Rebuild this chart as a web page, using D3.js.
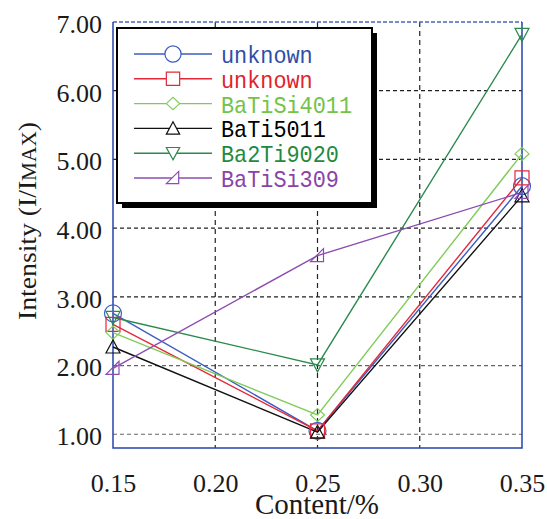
<!DOCTYPE html>
<html>
<head>
<meta charset="utf-8">
<script src="https://cdn.jsdelivr.net/npm/d3@7"></script>
<style>
  body { margin: 0; background: #fff; }
  svg { display: block; }
</style>
</head>
<body>
<div id="chart"></div>
<script>
// chart data
var contents = [0.15, 0.25, 0.35];
var xTicks = [0.15, 0.20, 0.25, 0.30, 0.35];
var yTicks = [1, 2, 3, 4, 5, 6, 7];
var seriesNames = ["unknown", "unknown", "BaTiSi4011", "BaTi5011", "Ba2Ti9020", "BaTiSi309"];
var blueUnknown = [2.76, 1.05, 4.61];
var redUnknown = [2.60, 1.05, 4.73];
var baTiSi4011 = [2.48, 1.28, 5.08];
var baTi5011 = [2.27, 1.03, 4.47];
var ba2Ti9020 = [2.70, 2.01, 6.82];
var baTiSi309 = [1.96, 3.60, 4.52];

var allValues = [blueUnknown, redUnknown, baTiSi4011, baTi5011, ba2Ti9020, baTiSi309];
var lineColors = ["#3c5cc0", "#e4283a", "#80cc5a", "#111111", "#2a8a4c", "#8c4cb0"];
var textColors = ["#2d4ea8", "#e0232d", "#72c348", "#000000", "#1f8a42", "#8a44a8"];
var symbols = ["circle", "square", "diamond", "triangle", "triangleDown", "halfTriangle"];

var W = 547, H = 519;
var svg = d3.select("#chart").append("svg").attr("width", W).attr("height", H);

var x = d3.scaleLinear().domain([0.15, 0.35]).range([113, 522]);
var y = d3.scaleLinear().domain([0.8, 7]).range([448, 22]);

// marker paths, centred on 0,0
function markerPath(kind, legend) {
  var s = legend ? 0.95 : 1;
  switch (kind) {
    case "circle": {
      var r = 8.5 * s;
      return "M" + (-r) + ",0A" + r + "," + r + " 0 1,0 " + r + ",0A" + r + "," + r + " 0 1,0 " + (-r) + ",0Z";
    }
    case "square": { var h = 7 * s; return "M" + -h + "," + -h + "H" + h + "V" + h + "H" + -h + "Z"; }
    case "diamond": return "M" + (-7 * s) + ",0L0," + (-6.5 * s) + "L" + (7 * s) + ",0L0," + (6.5 * s) + "Z";
    case "triangle": return "M0," + (-7 * s) + "L" + (7 * s) + "," + (6 * s) + "L" + (-7 * s) + "," + (6 * s) + "Z";
    case "triangleDown": return "M0," + (7 * s) + "L" + (7 * s) + "," + (-6 * s) + "L" + (-7 * s) + "," + (-6 * s) + "Z";
    case "halfTriangle": return "M" + (-7 * s) + "," + (6 * s) + "L" + (6 * s) + "," + (6 * s) + "L" + (6 * s) + "," + (-7 * s) + "Z";
  }
}

// grid
var grid = svg.append("g");
grid.selectAll("line.h").data(yTicks.slice(0, 6)).enter().append("line")
  .attr("x1", 113).attr("x2", 522)
  .attr("y1", function(d) { return y(d); }).attr("y2", function(d) { return y(d); })
  .attr("stroke", function(d) { return d <= 2 ? "#666" : "#222"; })
  .attr("stroke-width", 1.2)
  .attr("stroke-dasharray", "4,3");
grid.selectAll("line.v").data([0.20, 0.25, 0.30]).enter().append("line")
  .attr("x1", function(d) { return x(d); }).attr("x2", function(d) { return x(d); })
  .attr("y1", 22).attr("y2", 448)
  .attr("stroke", "#222").attr("stroke-width", 1.2)
  .attr("stroke-dasharray", "5,4");

// frame
var frame = svg.append("g").attr("fill", "none");
frame.append("line").attr("x1", 113).attr("x2", 522).attr("y1", 22).attr("y2", 22)
  .attr("stroke", "#4a66b8").attr("stroke-width", 1.5).attr("stroke-dasharray", "4,2");
frame.append("path").attr("d", "M113,22V448H522V22")
  .attr("stroke", "#2444aa").attr("stroke-width", 1.5);

// axes
var xAxis = svg.append("g").attr("transform", "translate(0,448)")
  .call(d3.axisBottom(x).tickValues(xTicks).tickFormat(d3.format(".2f")).tickSize(0).tickPadding(26));
var yAxis = svg.append("g").attr("transform", "translate(113,0)")
  .call(d3.axisLeft(y).tickValues(yTicks).tickFormat(d3.format(".2f")).tickSize(0).tickPadding(11));
[xAxis, yAxis].forEach(function(a) {
  a.select(".domain").remove();
  a.selectAll("text").attr("font-family", "'Liberation Serif', 'Times New Roman', serif")
    .attr("font-size", 26).attr("fill", "#1a1a1a");
});
yAxis.selectAll("text").attr("dy", "0.4em");

svg.append("text").attr("x", 317).attr("y", 514)
  .attr("text-anchor", "middle")
  .attr("font-family", "'Liberation Serif', 'Times New Roman', serif")
  .attr("font-size", 29).attr("fill", "#1a1a1a")
  .text("Content/%");

var yTitle = svg.append("text")
  .attr("transform", "translate(36,221) rotate(-90)")
  .attr("text-anchor", "middle")
  .attr("font-family", "'Liberation Serif', 'Times New Roman', serif")
  .attr("font-size", 26).attr("fill", "#1a1a1a")
  .attr("textLength", 198).attr("lengthAdjust", "spacingAndGlyphs");
yTitle.append("tspan").text("Intensity (I/I");
yTitle.append("tspan").attr("font-size", 20).text("MAX");
yTitle.append("tspan").text(")");

// series lines + markers
var line = d3.line().x(function(d) { return x(d[0]); }).y(function(d) { return y(d[1]); });
var plot = svg.append("g");
allValues.forEach(function(vals, i) {
  var pts = contents.map(function(c, j) { return [c, vals[j]]; });
  plot.append("path").attr("d", line(pts))
    .attr("fill", "none").attr("stroke", lineColors[i]).attr("stroke-width", 1.4);
});
allValues.forEach(function(vals, i) {
  plot.selectAll(null).data(contents.map(function(c, j) { return [c, vals[j]]; })).enter()
    .append("path")
    .attr("transform", function(d) { return "translate(" + x(d[0]) + "," + y(d[1]) + ")"; })
    .attr("d", markerPath(symbols[i], false))
    .attr("fill", "none").attr("stroke", lineColors[i]).attr("stroke-width", 1.2);
});

// legend
var leg = svg.append("g");
leg.append("rect").attr("x", 122).attr("y", 33).attr("width", 255).attr("height", 175).attr("fill", "#000");
leg.append("rect").attr("x", 117).attr("y", 28).attr("width", 255).attr("height", 175)
  .attr("fill", "#fff").attr("stroke", "#000").attr("stroke-width", 2);
seriesNames.forEach(function(name, i) {
  var ry = 54 + i * 24.8;
  leg.append("line").attr("x1", 134).attr("x2", 212).attr("y1", ry).attr("y2", ry)
    .attr("stroke", lineColors[i]).attr("stroke-width", 1.4);
  leg.append("path").attr("transform", "translate(173," + ry + ")")
    .attr("d", markerPath(symbols[i], true))
    .attr("fill", "#fff").attr("stroke", lineColors[i]).attr("stroke-width", 1.2);
  leg.append("text").attr("x", 221).attr("y", ry + 9)
    .attr("font-family", "'Liberation Mono', 'DejaVu Sans Mono', monospace")
    .attr("font-size", 24).attr("fill", textColors[i])
    .attr("textLength", name.length * 13.1).attr("lengthAdjust", "spacingAndGlyphs")
    .text(name);
});
</script>
</body>
</html>
